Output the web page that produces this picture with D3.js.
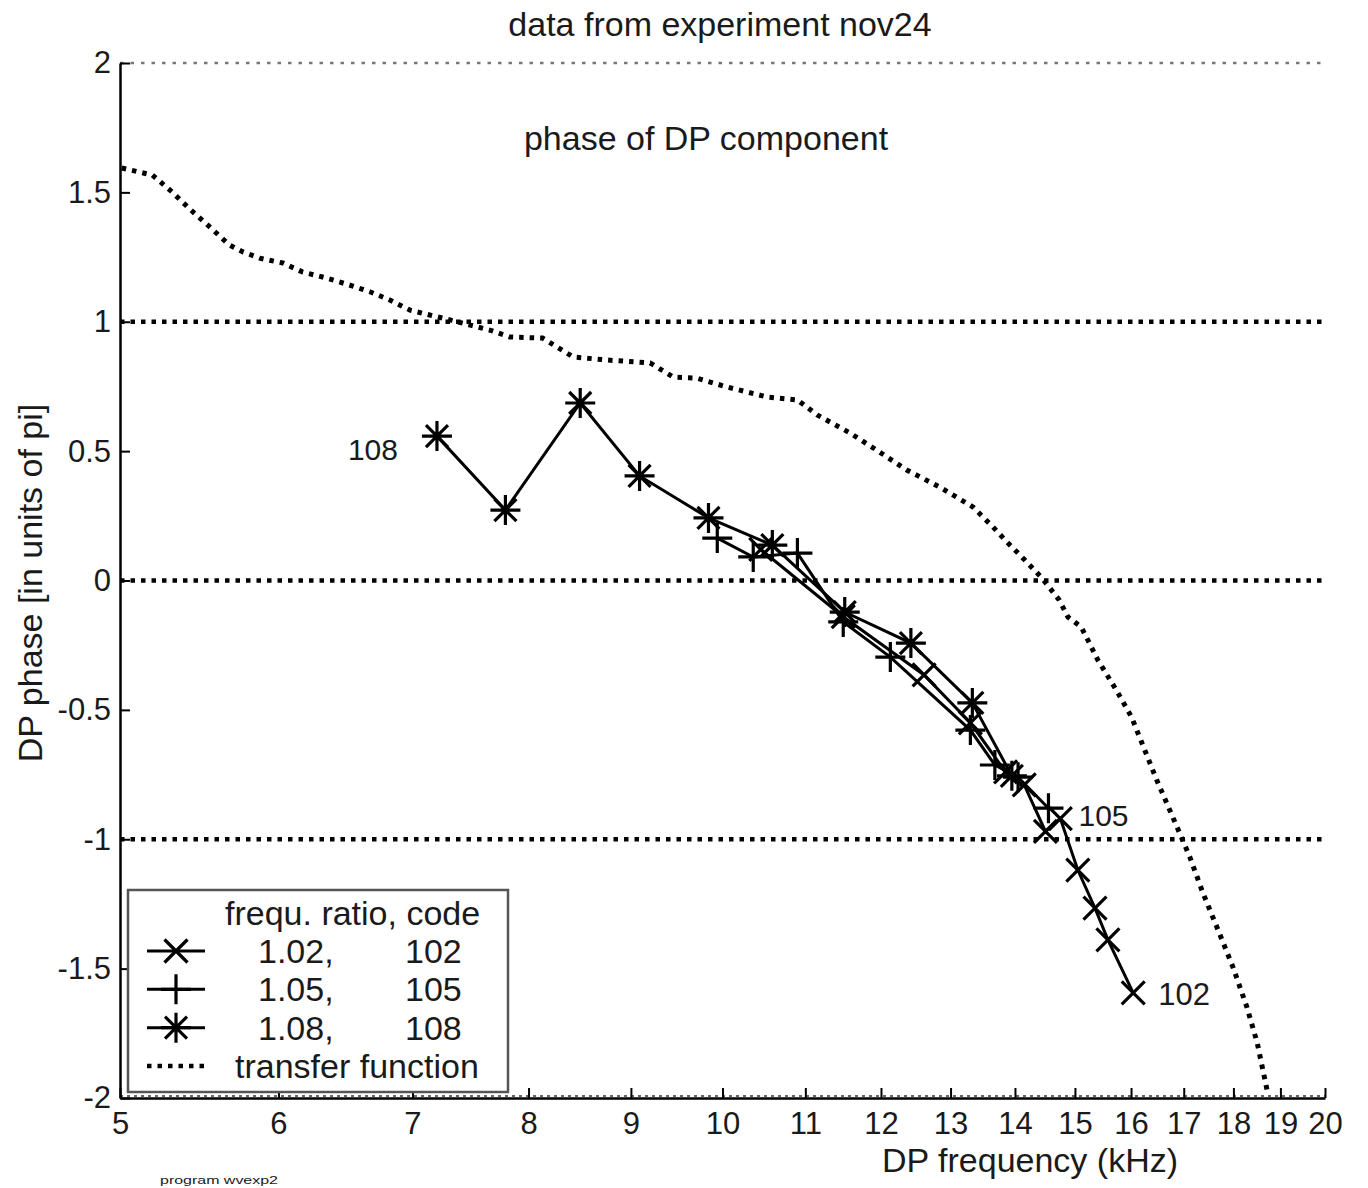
<!DOCTYPE html>
<html>
<head>
<meta charset="utf-8">
<script src="https://cdn.jsdelivr.net/npm/d3@7"></script>
<style>
  body { margin: 0; background: #fff; }
  svg text { font-family: "Liberation Sans", Arial, sans-serif; fill: #1a1a1a; }
</style>
</head>
<body>
<div id="chart"></div>
<script>
// transfer function (dotted curve)
var freqTF = [5.01, 5.19, 5.31, 5.41, 5.53, 5.67, 5.76, 5.87, 6.03, 6.17, 6.34, 6.51, 6.67, 6.82,
  6.98, 7.14, 7.31, 7.48, 7.65, 7.83, 8.13, 8.42, 8.76, 9.20, 9.45, 9.71, 10.05, 10.53, 10.90,
  11.15, 11.58, 11.94, 12.36, 12.84, 13.34, 13.65, 13.84, 14.16, 14.44, 14.73, 14.88, 15.11,
  15.40, 15.73, 16.01, 16.48, 16.87, 17.12, 17.38, 17.66, 17.99, 18.28, 18.50, 18.71];
var phaseTF = [1.594, 1.567, 1.501, 1.440, 1.374, 1.297, 1.270, 1.246, 1.227, 1.192, 1.169, 1.142,
  1.115, 1.084, 1.045, 1.026, 1.007, 0.987, 0.968, 0.941, 0.937, 0.864, 0.852, 0.841, 0.786, 0.782,
  0.748, 0.709, 0.698, 0.640, 0.570, 0.504, 0.427, 0.361, 0.284, 0.207, 0.157, 0.079, 0.010,
  -0.075, -0.141, -0.180, -0.307, -0.423, -0.528, -0.771, -0.953, -1.069, -1.208, -1.339, -1.494,
  -1.648, -1.787, -1.969];

// measured DP phase, one pair of arrays per frequency ratio
var freq102 = [10.45, 11.49, 12.61, 13.30, 13.85, 14.15, 14.50, 14.75, 15.05, 15.35, 15.58, 16.04];
var phase102 = [0.120, -0.140, -0.365, -0.550, -0.740, -0.790, -0.970, -0.920, -1.119, -1.266, -1.389, -1.594];

var freq105 = [9.94, 10.36, 10.90, 11.49, 12.13, 13.30, 13.68, 14.05, 14.55];
var phase105 = [0.164, 0.091, 0.106, -0.160, -0.296, -0.578, -0.713, -0.760, -0.880];

var freq108 = [7.20, 7.79, 8.49, 9.09, 9.84, 10.59, 11.51, 12.42, 13.33, 13.95];
var phase108 = [0.558, 0.272, 0.686, 0.404, 0.242, 0.137, -0.122, -0.242, -0.473, -0.755];

var xTicks = [5, 6, 7, 8, 9, 10, 11, 12, 13, 14, 15, 16, 17, 18, 19, 20];
var yTicks = [-2, -1.5, -1, -0.5, 0, 0.5, 1, 1.5, 2];
var yTickLabels = ["-2", "-1.5", "-1", "-0.5", "0", "0.5", "1", "1.5", "2"];
var gridLevels = [1, 0, -1];

var legendRows = [
  { ratio: "1.02,", code: "102", marker: "x" },
  { ratio: "1.05,", code: "105", marker: "plus" },
  { ratio: "1.08,", code: "108", marker: "star" }
];

var width = 1368, height = 1188;

var svg = d3.select("#chart").append("svg")
  .attr("width", width)
  .attr("height", height);

var xScale = d3.scaleLog().domain([5, 20]).range([120, 1325]);
var yScale = d3.scaleLinear().domain([-2, 2]).range([1098, 63]);

function pairs(xs, ys) {
  return xs.map(function(d, i) { return [d, ys[i]]; });
}

// marker shapes
function markerPath(type) {
  var p = d3.path();
  var a = 15, b = 11.5, c = 11;
  if (type === "plus" || type === "star") {
    p.moveTo(-a, 0); p.lineTo(a, 0);
    p.moveTo(0, -a); p.lineTo(0, a);
  }
  if (type === "star") {
    p.moveTo(-c, -c); p.lineTo(c, c);
    p.moveTo(-c, c); p.lineTo(c, -c);
  }
  if (type === "x") {
    p.moveTo(-b, -b); p.lineTo(b, b);
    p.moveTo(-b, b); p.lineTo(b, -b);
  }
  return p.toString();
}

// top dotted line at 2
svg.append("line")
  .attr("x1", xScale(5)).attr("x2", xScale(20))
  .attr("y1", yScale(2)).attr("y2", yScale(2))
  .attr("stroke", "#777")
  .attr("stroke-width", 2.5)
  .attr("stroke-dasharray", "3.5,7");

// dotted lines at 1, 0, -1
svg.selectAll(".level")
  .data(gridLevels)
  .enter()
  .append("line")
  .attr("class", "level")
  .attr("x1", xScale(5)).attr("x2", xScale(20))
  .attr("y1", function(d) { return yScale(d); })
  .attr("y2", function(d) { return yScale(d); })
  .attr("stroke", "#000")
  .attr("stroke-width", 4.5)
  .attr("stroke-dasharray", "4.5,6");

// dotted overlay at -2
svg.append("line")
  .attr("x1", xScale(5)).attr("x2", xScale(20))
  .attr("y1", yScale(-2) - 2).attr("y2", yScale(-2) - 2)
  .attr("stroke", "#666")
  .attr("stroke-width", 2)
  .attr("stroke-dasharray", "3,4");

var line = d3.line()
  .x(function(d) { return xScale(d[0]); })
  .y(function(d) { return yScale(d[1]); });

// transfer function
svg.append("path")
  .datum(pairs(freqTF, phaseTF))
  .attr("d", line)
  .attr("fill", "none")
  .attr("stroke", "#000")
  .attr("stroke-width", 5)
  .attr("stroke-dasharray", "4.5,6");

var series = [
  { data: pairs(freq102, phase102), marker: "x" },
  { data: pairs(freq105, phase105), marker: "plus" },
  { data: pairs(freq108, phase108), marker: "star" }
];

series.forEach(function(s) {
  svg.append("path")
    .datum(s.data)
    .attr("d", line)
    .attr("fill", "none")
    .attr("stroke", "#000")
    .attr("stroke-width", 3);

  svg.selectAll(null)
    .data(s.data)
    .enter()
    .append("path")
    .attr("transform", function(d) { return "translate(" + xScale(d[0]) + "," + yScale(d[1]) + ")"; })
    .attr("d", markerPath(s.marker))
    .attr("fill", "none")
    .attr("stroke", "#000")
    .attr("stroke-width", 3.2);
});

// series labels
svg.append("text")
  .attr("x", xScale(freq108[0]) - 39)
  .attr("y", yScale(phase108[0]) + 24)
  .attr("text-anchor", "end")
  .style("font-size", "30px")
  .text("108");
svg.append("text")
  .attr("x", xScale(freq105[freq105.length - 1]) + 30)
  .attr("y", yScale(phase105[phase105.length - 1]) + 18)
  .style("font-size", "30px")
  .text("105");
svg.append("text")
  .attr("x", xScale(freq102[freq102.length - 1]) + 25)
  .attr("y", yScale(phase102[phase102.length - 1]) + 12)
  .style("font-size", "31px")
  .text("102");

// axes
var xAxis = d3.axisBottom(xScale)
  .tickValues(xTicks)
  .tickFormat(d3.format("d"))
  .tickSizeInner(-10)
  .tickSizeOuter(0)
  .tickPadding(14);

var gx = svg.append("g")
  .attr("transform", "translate(0," + yScale(-2) + ")")
  .call(xAxis);

var yAxis = d3.axisLeft(yScale)
  .tickValues(yTicks)
  .tickFormat(function(d, i) { return yTickLabels[i]; })
  .tickSizeInner(-10)
  .tickSizeOuter(0)
  .tickPadding(9);

var gy = svg.append("g")
  .attr("transform", "translate(" + xScale(5) + ",0)")
  .call(yAxis);

[gx, gy].forEach(function(g) {
  g.select(".domain").attr("stroke", "#000").attr("stroke-width", 2.5);
  g.selectAll(".tick line").attr("stroke", "#000").attr("stroke-width", 2);
  g.selectAll(".tick text")
    .style("font-family", "'Liberation Sans', Arial, sans-serif")
    .style("font-size", "31px")
    .attr("fill", "#1a1a1a");
});

// titles
svg.append("text")
  .attr("x", 720).attr("y", 36)
  .attr("text-anchor", "middle")
  .style("font-size", "34px")
  .text("data from experiment nov24");

svg.append("text")
  .attr("x", 706).attr("y", 150)
  .attr("text-anchor", "middle")
  .style("font-size", "34px")
  .text("phase of DP component");

svg.append("text")
  .attr("x", 1030).attr("y", 1172)
  .attr("text-anchor", "middle")
  .style("font-size", "34px")
  .text("DP frequency (kHz)");

svg.append("text")
  .attr("transform", "translate(42,583) rotate(-90)")
  .attr("text-anchor", "middle")
  .style("font-size", "34px")
  .text("DP phase [in units of pi]");

svg.append("text")
  .attr("x", 160).attr("y", 1184)
  .attr("textLength", 118)
  .attr("lengthAdjust", "spacingAndGlyphs")
  .style("font-size", "11px")
  .attr("fill", "#444")
  .text("program wvexp2");

// legend
var legend = svg.append("g");
legend.append("rect")
  .attr("x", 128).attr("y", 890)
  .attr("width", 380).attr("height", 202)
  .attr("fill", "#fff")
  .attr("stroke", "#555")
  .attr("stroke-width", 2.5);

legend.append("text")
  .attr("x", 225).attr("y", 925)
  .style("font-size", "34px")
  .text("frequ. ratio, code");

var rowY = d3.scalePoint().domain([0, 1, 2, 3]).range([951, 1066]);

legendRows.forEach(function(r, i) {
  var cy = rowY(i);
  legend.append("line")
    .attr("x1", 147).attr("x2", 205)
    .attr("y1", cy).attr("y2", cy)
    .attr("stroke", "#000").attr("stroke-width", 3);
  legend.append("path")
    .attr("transform", "translate(176," + cy + ")")
    .attr("d", markerPath(r.marker))
    .attr("fill", "none")
    .attr("stroke", "#000")
    .attr("stroke-width", 3.2);
  legend.append("text")
    .attr("x", 258).attr("y", cy + 12)
    .style("font-size", "34px")
    .text(r.ratio);
  legend.append("text")
    .attr("x", 405).attr("y", cy + 12)
    .style("font-size", "34px")
    .text(r.code);
});

legend.append("line")
  .attr("x1", 147).attr("x2", 205)
  .attr("y1", rowY(3)).attr("y2", rowY(3))
  .attr("stroke", "#000")
  .attr("stroke-width", 4.5)
  .attr("stroke-dasharray", "4.5,6");
legend.append("text")
  .attr("x", 235).attr("y", rowY(3) + 12)
  .style("font-size", "34px")
  .text("transfer function");
</script>
</body>
</html>
